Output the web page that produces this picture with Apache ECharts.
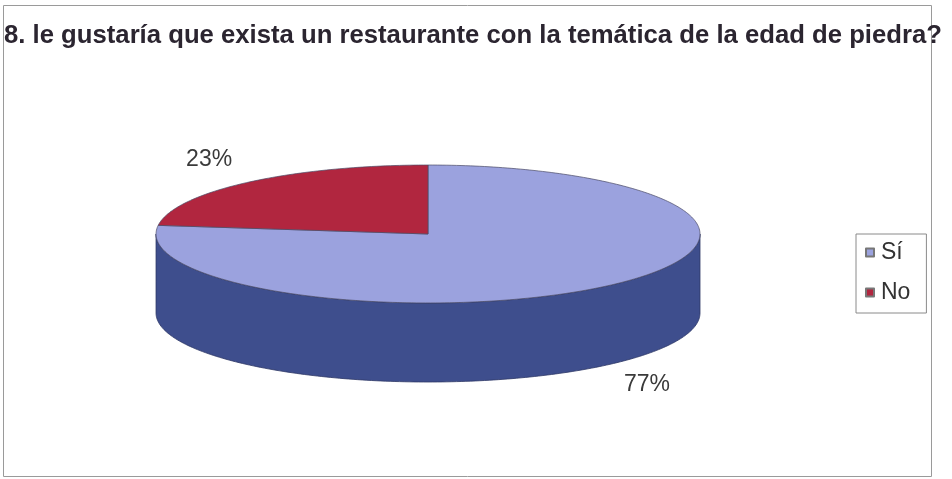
<!DOCTYPE html>
<html><head><meta charset="utf-8">
<script src="https://cdn.jsdelivr.net/npm/echarts@6/dist/echarts.min.js"></script>
<style>html,body{margin:0;padding:0;background:#fff}#c{width:952px;height:479px}</style>
</head><body><div id="c"></div>
<script>
const titleText = '8. le gustaría que exista un restaurante con la temática de la edad de piedra?';
const categories = ['Sí', 'No'];
const values = [77, 23];

const topColors = ['#9BA2DE', '#B1263F'];
const sideColors = ['#3E4E8D', '#6E1424'];
const FONT = "'Liberation Sans', Arial, sans-serif";

const total = values.reduce((a, b) => a + b, 0);
const starts = [];
let acc = 0;
values.forEach(v => { starts.push(acc / total * 360); acc += v; });

function geom(api) {
  const W = api.getWidth(), H = api.getHeight();
  return { cx: W * 0.4496, cy: H * 0.4885, rx: W * 0.2857, ry: H * 0.144, depth: H * 0.165 };
}
function pt(g, deg, dy) {
  const r = deg * Math.PI / 180;
  return [g.cx + g.rx * Math.sin(r), g.cy - g.ry * Math.cos(r) + (dy || 0)];
}
function arc(g, a0, a1, dy) {
  const pts = [];
  const n = Math.max(2, Math.ceil(Math.abs(a1 - a0)));
  for (let i = 0; i <= n; i++) pts.push(pt(g, a0 + (a1 - a0) * i / n, dy));
  return pts;
}
function sliceAngles(api, i) {
  const a0 = starts[i];
  return [a0, a0 + api.value(0) / total * 360];
}

const seriesData = categories.map((c, i) => ({ name: c, value: values[i] }));

const option = {
  animation: false,
  title: {
    text: titleText, left: 4, top: 23, padding: 0,
    textStyle: { fontFamily: FONT, fontWeight: 'bold', fontSize: 25.7, lineHeight: 26, color: '#2b2530' }
  },
  legend: {
    orient: 'vertical', left: 856, top: 234,
    padding: [7, 16, 9, 9], itemGap: 17,
    itemWidth: 8, itemHeight: 8,
    borderColor: '#8a8a8a', borderWidth: 1,
    data: categories.map(c => ({ name: c, icon: 'rect' })),
    textStyle: { fontFamily: FONT, fontSize: 23, color: '#333', padding: [0, 0, 0, 2] },
    selectedMode: false
  },
  graphic: [{
    type: 'rect', z: -10, silent: true,
    shape: { x: 3.5, y: 5.5, width: 928, height: 471 },
    style: { fill: 'none', stroke: '#9a9a9a', lineWidth: 1 }
  }],
  series: [
    {
      type: 'pie', radius: [0, 0], center: ['50%', '50%'], silent: true,
      label: { show: false }, labelLine: { show: false },
      data: seriesData.map((d, i) => ({ name: d.name, value: d.value, itemStyle: { color: topColors[i], borderColor: '#777', borderWidth: 0.5 } }))
    },
    {
      type: 'custom', coordinateSystem: 'none', silent: true, z: 2,
      data: seriesData,
      renderItem: function (params, api) {
        const g = geom(api);
        const i = params.dataIndex;
        const [a0, a1] = sliceAngles(api, i);
        const s = Math.max(a0, 90), e = Math.min(a1, 270);
        if (!(s < e)) return { type: 'group', children: [] };
        const pts = arc(g, s, e, 0).concat(arc(g, e, s, g.depth));
        return {
          type: 'polygon', shape: { points: pts },
          style: { fill: sideColors[i], stroke: '#2d3766', lineWidth: 0.8 }
        };
      }
    },
    {
      type: 'custom', coordinateSystem: 'none', silent: true, z: 3,
      data: seriesData,
      renderItem: function (params, api) {
        const g = geom(api);
        const i = params.dataIndex;
        const [a0, a1] = sliceAngles(api, i);
        const pts = [[g.cx, g.cy]].concat(arc(g, a0, a1, 0));
        const m = (a0 + a1) / 2 * Math.PI / 180;
        const lx = g.cx + (g.rx + 59) * Math.sin(m);
        const ly = g.cy - (g.ry + 30) * Math.cos(m) + (Math.cos(m) < 0 ? g.depth - 3 : 0);
        const pct = Math.round(api.value(0) / total * 100) + '%';
        return {
          type: 'group',
          children: [
            { type: 'polygon', shape: { points: pts },
              style: { fill: topColors[i], stroke: '#4a4a66', lineWidth: 0.7 } },
            { type: 'text',
              style: { text: pct, x: lx, y: ly, align: 'center', verticalAlign: 'middle',
                       fontFamily: FONT, fontSize: 23, fill: '#3a3a3a' } }
          ]
        };
      }
    }
  ]
};

const chart = echarts.init(document.getElementById('c'), null, { renderer: 'canvas' });
chart.setOption(option);
</script>
</body></html>
